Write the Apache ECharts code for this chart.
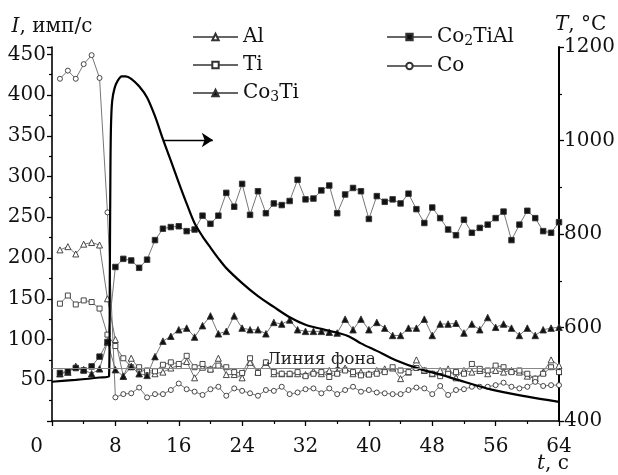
<!DOCTYPE html>
<html><head><meta charset="utf-8">
<script src="https://cdn.jsdelivr.net/npm/echarts@6/dist/echarts.min.js"></script>
<style>html,body{margin:0;padding:0;background:#fff}#c{width:618px;height:475px}</style>
</head><body><div id="c"></div>
<script>
const tSec = [1,2,3,4,5,6,7,8,9,10,11,12,13,14,15,16,17,18,19,20,21,22,23,24,25,26,27,28,29,30,31,32,33,34,35,36,37,38,39,40,41,42,43,44,45,46,47,48,49,50,51,52,53,54,55,56,57,58,59,60,61,62,63,64];
const al = [210,214,205,217,219,216,150,100,55,77,64,60,58,60,65,68,73,53,66,64,77,57,57,53,72,60,72,58,58,58,58,57,61,58,62,60,65,58,60,58,62,64,65,52,60,75,62,58,62,64,53,62,60,62,58,62,60,62,60,55,52,60,75,68];
const ti = [144,154,143,148,146,138,106,92,77,66,66,62,61,69,72,70,80,66,70,63,68,66,60,59,77,59,72,60,58,58,60,55,58,60,54,58,62,60,56,57,58,60,66,62,60,65,62,58,55,58,60,58,70,64,62,68,66,60,62,58,52,58,66,60];
const co3ti = [58,60,67,63,58,64,97,63,55,67,58,56,79,98,104,112,114,103,117,129,107,110,129,114,112,112,107,121,119,124,112,110,110,110,109,108,125,112,125,112,121,114,105,105,114,114,125,105,119,119,120,108,119,112,127,115,119,114,105,114,105,112,114,115];
const co2tial = [59,61,65,62,67,79,97,189,199,197,188,198,222,236,238,239,233,235,252,242,252,280,263,291,253,282,255,267,265,270,296,272,273,283,289,255,278,286,282,248,276,269,272,267,279,260,243,262,249,235,228,247,231,237,241,249,257,222,241,258,249,233,231,244];
const co = [420,430,420,438,449,421,256,29,33,34,41,29,33,33,38,46,39,36,32,39,42,31,40,37,34,31,38,37,42,33,35,39,40,34,40,33,38,42,36,38,35,34,33,33,38,41,40,33,43,32,38,39,42,42,42,44,47,42,40,42,48,43,44,44];
const tempTime = [0,3,6,7.2,7.3,7.38,7.46,7.6,7.9,8.3,8.8,9.3,10,11,12,13,14,15,16,17,18,19,20,21,22,24,26,28,30,32,34,36,37.5,39,41,43.4,46.3,49.3,51,55.5,60,64];
const tempC = [484,488,493,496,720,950,1040,1085,1112,1128,1137,1137,1132,1116,1092,1052,1003,957,910,865,823,795,771,748,727,695,667,644,622,606,597,589,581,566,550,530,512,498,489,467,452,441];
const backgroundLevel = 65;
const backgroundLabel = 'Линия фона';
const backgroundLabelSpan = [28, 40];
const arrowFrom = [14, 1001];
const arrowTo = [20.3, 1001];

const FONT = 'DejaVu Serif';
const pairs = (arr) => arr.map((v, i) => [tSec[i], v]);
const lineCol = '#666';
const mk = (name, data, symbol, size, filled) => ({
  name, type: 'line', data: pairs(data), yAxisIndex: 0,
  symbol, symbolSize: size, showSymbol: true,
  lineStyle: {color: lineCol, width: 0.9},
  itemStyle: {color: filled ? '#111' : '#fff', borderColor: '#333', borderWidth: 0.9},
  emphasis: {disabled: true}, z: 3
});

const chart = echarts.init(document.getElementById('c'), null, {renderer: 'canvas'});
const subFmt = (n) => n.replace(/(\d)/g, '{sub|$1}');
const legendText = {fontFamily: FONT, fontSize: 20, color: '#111',
  rich: {sub: {fontFamily: FONT, fontSize: 14, color: '#111', padding: [8, 0, 0, 0]}}};

const series = [
  mk('Al', al, 'triangle', 6, false),
  mk('Ti', ti, 'rect', 5, false),
  mk('Co3Ti', co3ti, 'triangle', 6.5, true),
  mk('Co2TiAl', co2tial, 'rect', 5.5, true),
  mk('Co', co, 'circle', 5, false),
  {
    name: 'T', type: 'line', yAxisIndex: 1,
    data: tempTime.map((t, i) => [t, tempC[i]]),
    showSymbol: false, symbol: 'none', smooth: 0.3,
    lineStyle: {color: '#000', width: 2.2}, z: 4,
    markLine: {
      silent: true, symbol: ['none', 'arrow'], symbolSize: 11,
      lineStyle: {color: '#000', width: 1.3, type: 'solid'},
      label: {show: false},
      data: [[{coord: arrowFrom}, {coord: arrowTo}]]
    }
  }
];
series[0].markLine = {
  silent: true, symbol: 'none',
  lineStyle: {color: '#888', width: 1, type: 'solid'},
  label: {show: false},
  data: [
    {yAxis: backgroundLevel},
    [{coord: [backgroundLabelSpan[0], backgroundLevel],
      label: {show: true, formatter: backgroundLabel, position: 'insideMiddleTop', fontFamily: FONT, fontSize: 17, color: '#222', distance: 0}},
     {coord: [backgroundLabelSpan[1], backgroundLevel]}]
  ]
};

chart.setOption({
  animation: false,
  backgroundColor: '#fff',
  grid: {left: 52, right: 59, top: 47, bottom: 54},
  legend: [
    {data: ['Al', 'Ti', 'Co3Ti'], orient: 'vertical', left: 187, top: 22, itemWidth: 45, itemHeight: 8, itemGap: 8,
     formatter: subFmt, textStyle: legendText, selectedMode: false},
    {data: ['Co2TiAl', 'Co'], orient: 'vertical', left: 381, top: 22, itemWidth: 45, itemHeight: 8, itemGap: 8,
     formatter: subFmt, textStyle: legendText, selectedMode: false}
  ],
  xAxis: {
    type: 'value', min: 0, max: 64, interval: 8,
    name: '{it|t}, с', nameLocation: 'end', nameGap: 10, nameMoveOverlap: false,
    nameTextStyle: {fontFamily: FONT, fontSize: 20, color: '#111', align: 'right', verticalAlign: 'top', padding: [33, 0, 0, 0],
      rich: {it: {fontFamily: FONT, fontSize: 20, fontStyle: 'italic', color: '#111'}}},
    axisLine: {lineStyle: {color: '#000', width: 1.6}},
    axisTick: {length: 5, lineStyle: {color: '#000', width: 1.3}},
    minorTick: {show: true, splitNumber: 2, length: 3, lineStyle: {color: '#000', width: 1.2}},
    splitLine: {show: false},
    axisLabel: {fontFamily: FONT, fontSize: 20, color: '#111', margin: 16, alignMinLabel: 'right',
      formatter: (v) => v === 0 ? '{z|0}' : String(v),
      rich: {z: {fontFamily: FONT, fontSize: 20, color: '#111', padding: [0, 9, 0, 0]}}}
  },
  yAxis: [
    {
      type: 'value', min: 0, max: 459, interval: 50, position: 'left',
      name: '{it|I}, имп/с', nameLocation: 'end', nameGap: 10,
      nameTextStyle: {fontFamily: FONT, fontSize: 20, color: '#111',
        rich: {it: {fontFamily: FONT, fontSize: 20, fontStyle: 'italic', color: '#111'}}},
      axisLine: {show: true, lineStyle: {color: '#000', width: 1.6}},
      axisTick: {length: 5, lineStyle: {color: '#000', width: 1.3}},
      minorTick: {show: true, splitNumber: 2, length: 3, lineStyle: {color: '#000', width: 1.2}},
      splitLine: {show: false},
      axisLabel: {fontFamily: FONT, fontSize: 20, color: '#111', margin: 6,
        formatter: (v) => (v === 0 || v % 50 !== 0) ? '' : String(v)}
    },
    {
      type: 'value', min: 400, max: 1200, interval: 200, position: 'right',
      name: '{it|T}, °C', nameLocation: 'end', nameGap: 12,
      nameTextStyle: {fontFamily: FONT, fontSize: 20, color: '#111', align: 'left', padding: [0, 0, 0, -4],
        rich: {it: {fontFamily: FONT, fontSize: 20, fontStyle: 'italic', color: '#111'}}},
      axisLine: {show: true, lineStyle: {color: '#000', width: 2}},
      axisTick: {length: 5, lineStyle: {color: '#000', width: 1.3}},
      minorTick: {show: true, splitNumber: 2, length: 3, lineStyle: {color: '#000', width: 1.2}},
      splitLine: {show: false},
      axisLabel: {fontFamily: FONT, fontSize: 20, color: '#111', margin: 5, formatter: (v) => String(v)}
    }
  ],
  series
});
</script></body></html>
